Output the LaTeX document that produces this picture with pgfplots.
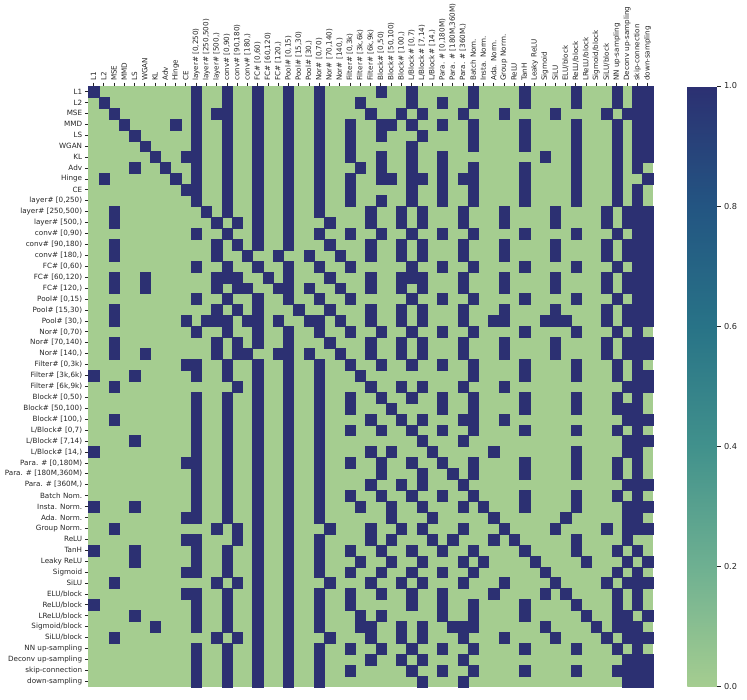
\documentclass[border=0pt]{standalone}
\usepackage{pgfplots}
\pgfplotsset{compat=1.18}
\usepackage{fontspec}
\setmainfont{DejaVu Sans}
\definecolor{cdark}{RGB}{44,48,114}
\definecolor{clight}{RGB}{165,205,144}
\definecolor{ctext}{RGB}{38,38,38}
\pgfplotsset{colormap={crestr}{rgb255(0)=(165,205,144) rgb255(1)=(110,176,145) rgb255(2)=(65,145,140) rgb255(3)=(40,115,135) rgb255(4)=(35,85,130) rgb255(5)=(44,48,114)}}
\pgfdeclareplotmark{cell}{\pgfpathrectangle{\pgfqpoint{-5.13pt}{-5.46pt}}{\pgfqpoint{10.26pt}{10.92pt}}\pgfusepathqfillstroke}
\newcommand\labs{{L1},{L2},{MSE},{MMD},{LS},{WGAN},{KL},{Adv},{Hinge},{CE},{layer\# [0,250)},{layer\# [250,500)},{layer\# [500,)},{conv\# [0,90)},{conv\# [90,180)},{conv\# [180,)},{FC\# [0,60)},{FC\# [60,120)},{FC\# [120,)},{Pool\# [0,15)},{Pool\# [15,30)},{Pool\# [30,)},{Nor\# [0,70)},{Nor\# [70,140)},{Nor\# [140,)},{Filter\# [0,3k)},{Filter\# [3k,6k)},{Filter\# [6k,9k)},{Block\# [0,50)},{Block\# [50,100)},{Block\# [100,)},{L/Block\# [0,7)},{L/Block\# [7,14)},{L/Block\# [14,)},{Para. \# [0,180M)},{Para. \# [180M,360M)},{Para. \# [360M,)},{Batch Nom.},{Insta. Norm.},{Ada. Norm.},{Group Norm.},{ReLU},{TanH},{Leaky ReLU},{Sigmoid},{SiLU},{ELU/block},{ReLU/block},{LReLU/block},{Sigmoid/block},{SiLU/block},{NN up-sampling},{Deconv up-sampling},{skip-connection},{down-sampling}}
\begin{document}
\begin{tikzpicture}
\useasboundingbox (-88.3pt,-12.3pt) rectangle (658.7pt,686.7pt);
\begin{axis}[
 scale only axis, width=564.4pt, height=600.7pt,
 axis background/.style={fill=clight},
 axis line style={draw=none},
 xmin=-0.5, xmax=54.5, ymin=-0.5, ymax=54.5, y dir=reverse,
 xtick={0,...,54}, ytick={0,...,54},
 xticklabels/.expand once=\labs, yticklabels/.expand once=\labs,
 xticklabel pos=top, xtick pos=top, ytick pos=left,
 tick align=outside, major tick length=3.5pt,
 tick style={draw=ctext, line width=0.6pt},
 ticklabel style={font=\fontsize{7.2}{8}\selectfont, text=ctext},
 x tick label style={rotate=90, anchor=west, inner xsep=1.5pt},
 y tick label style={inner xsep=2.5pt},
 colormap name=crestr, point meta min=0, point meta max=1,
 colorbar/width=29.7pt,
 colorbar shift/.style={xshift=0pt},
 colorbar, colorbar style={
   at={(parent axis.north east)}, anchor=north west, xshift=34.6pt,
   scale only axis, width=29.7pt, height=600.7pt,
   axis line style={draw=none},
   ytick={0,0.2,0.4,0.6,0.8,1}, ytick pos=right, yticklabel pos=right,
   major tick length=3.5pt, tick align=outside,
   tick style={draw=ctext, line width=0.6pt},
   ticklabel style={font=\fontsize{8.2}{10}\selectfont, text=ctext},
   /pgf/number format/fixed, /pgf/number format/fixed zerofill, /pgf/number format/precision=1, /pgf/number format/assume math mode=true},
]
\addplot[only marks, mark=cell, color=cdark, mark options={fill=cdark, draw=cdark, line width=0.1pt}] coordinates {
(0,0)(10,0)(13,0)(16,0)(19,0)(22,0)(28,0)(31,0)(37,0)(42,0)(47,0)(51,0)(53,0)(54,0)
(1,1)(10,1)(13,1)(16,1)(19,1)(22,1)(26,1)(31,1)(34,1)(37,1)(42,1)(47,1)(51,1)(53,1)(54,1)
(2,2)(10,2)(12,2)(13,2)(16,2)(19,2)(22,2)(27,2)(30,2)(32,2)(36,2)(40,2)(45,2)(50,2)(52,2)(53,2)(54,2)
(3,3)(8,3)(10,3)(13,3)(16,3)(19,3)(22,3)(25,3)(28,3)(29,3)(31,3)(34,3)(37,3)(42,3)(47,3)(51,3)(53,3)(54,3)
(4,4)(10,4)(13,4)(16,4)(19,4)(22,4)(25,4)(28,4)(32,4)(37,4)(42,4)(47,4)(51,4)(53,4)(54,4)
(5,5)(10,5)(13,5)(16,5)(19,5)(22,5)(25,5)(31,5)(37,5)(42,5)(47,5)(51,5)(53,5)(54,5)
(6,6)(9,6)(10,6)(13,6)(16,6)(19,6)(22,6)(25,6)(28,6)(31,6)(34,6)(44,6)(47,6)(51,6)(53,6)(54,6)
(4,7)(7,7)(10,7)(13,7)(16,7)(19,7)(22,7)(26,7)(28,7)(31,7)(34,7)(37,7)(42,7)(47,7)(51,7)(53,7)
(1,8)(8,8)(10,8)(13,8)(16,8)(19,8)(22,8)(25,8)(28,8)(29,8)(31,8)(32,8)(34,8)(36,8)(37,8)(42,8)(47,8)(51,8)(54,8)
(9,9)(10,9)(13,9)(16,9)(19,9)(22,9)(25,9)(31,9)(34,9)(37,9)(42,9)(47,9)(51,9)(53,9)
(10,10)(13,10)(16,10)(19,10)(22,10)(25,10)(28,10)(31,10)(34,10)(37,10)(42,10)(47,10)(51,10)(53,10)
(2,11)(11,11)(13,11)(16,11)(19,11)(22,11)(27,11)(30,11)(32,11)(36,11)(40,11)(45,11)(50,11)(52,11)(53,11)(54,11)
(2,12)(12,12)(14,12)(16,12)(19,12)(23,12)(27,12)(30,12)(32,12)(36,12)(40,12)(45,12)(50,12)(52,12)(53,12)(54,12)
(10,13)(13,13)(16,13)(19,13)(22,13)(25,13)(28,13)(31,13)(34,13)(37,13)(42,13)(47,13)(51,13)(53,13)(54,13)
(2,14)(12,14)(14,14)(16,14)(19,14)(23,14)(27,14)(30,14)(32,14)(36,14)(40,14)(45,14)(50,14)(52,14)(53,14)(54,14)
(2,15)(12,15)(15,15)(18,15)(21,15)(24,15)(27,15)(30,15)(32,15)(36,15)(40,15)(45,15)(50,15)(52,15)(53,15)(54,15)
(10,16)(13,16)(16,16)(19,16)(22,16)(25,16)(31,16)(34,16)(37,16)(42,16)(47,16)(51,16)(53,16)(54,16)
(2,17)(5,17)(12,17)(13,17)(14,17)(17,17)(19,17)(23,17)(27,17)(30,17)(31,17)(32,17)(36,17)(40,17)(45,17)(50,17)(52,17)(53,17)(54,17)
(2,18)(5,18)(12,18)(14,18)(15,18)(18,18)(19,18)(21,18)(24,18)(27,18)(30,18)(32,18)(36,18)(40,18)(45,18)(50,18)(52,18)(53,18)(54,18)
(10,19)(13,19)(16,19)(19,19)(22,19)(25,19)(31,19)(34,19)(37,19)(42,19)(47,19)(51,19)(53,19)(54,19)
(2,20)(12,20)(14,20)(16,20)(20,20)(23,20)(27,20)(30,20)(32,20)(36,20)(40,20)(45,20)(50,20)(52,20)(53,20)(54,20)
(2,21)(9,21)(11,21)(12,21)(13,21)(15,21)(16,21)(18,21)(21,21)(22,21)(24,21)(27,21)(30,21)(32,21)(36,21)(39,21)(40,21)(44,21)(45,21)(46,21)(50,21)(52,21)(53,21)(54,21)
(10,22)(13,22)(16,22)(19,22)(22,22)(25,22)(28,22)(31,22)(34,22)(37,22)(42,22)(47,22)(51,22)(53,22)
(2,23)(12,23)(14,23)(16,23)(19,23)(23,23)(27,23)(30,23)(32,23)(36,23)(40,23)(45,23)(50,23)(52,23)(53,23)(54,23)
(2,24)(5,24)(12,24)(14,24)(15,24)(18,24)(19,24)(21,24)(24,24)(27,24)(30,24)(32,24)(36,24)(40,24)(45,24)(50,24)(52,24)(53,24)(54,24)
(9,25)(10,25)(13,25)(16,25)(19,25)(22,25)(25,25)(28,25)(31,25)(34,25)(37,25)(42,25)(47,25)(51,25)(53,25)
(0,26)(4,26)(10,26)(13,26)(16,26)(19,26)(22,26)(26,26)(37,26)(42,26)(47,26)(51,26)(53,26)(54,26)
(2,27)(14,27)(16,27)(19,27)(22,27)(27,27)(30,27)(32,27)(36,27)(40,27)(52,27)(53,27)(54,27)
(10,28)(13,28)(16,28)(19,28)(22,28)(25,28)(28,28)(31,28)(34,28)(37,28)(42,28)(47,28)(51,28)(53,28)
(10,29)(13,29)(16,29)(19,29)(22,29)(25,29)(29,29)(34,29)(37,29)(42,29)(47,29)(51,29)(52,29)(53,29)
(2,30)(10,30)(13,30)(16,30)(19,30)(22,30)(27,30)(30,30)(32,30)(36,30)(37,30)(40,30)(52,30)(53,30)(54,30)
(10,31)(13,31)(16,31)(19,31)(22,31)(25,31)(28,31)(31,31)(34,31)(37,31)(42,31)(47,31)(51,31)(53,31)
(4,32)(10,32)(13,32)(16,32)(19,32)(22,32)(32,32)(36,32)(52,32)(53,32)(54,32)
(0,33)(10,33)(13,33)(16,33)(19,33)(22,33)(27,33)(29,33)(33,33)(39,33)(47,33)(52,33)(53,33)
(9,34)(10,34)(13,34)(16,34)(19,34)(22,34)(25,34)(28,34)(31,34)(34,34)(37,34)(42,34)(47,34)(51,34)(53,34)
(10,35)(13,35)(16,35)(19,35)(22,35)(28,35)(32,35)(35,35)(37,35)(42,35)(47,35)(51,35)(53,35)
(10,36)(13,36)(16,36)(19,36)(22,36)(27,36)(30,36)(32,36)(36,36)(52,36)(53,36)(54,36)
(10,37)(13,37)(16,37)(19,37)(22,37)(25,37)(28,37)(31,37)(34,37)(37,37)(42,37)(47,37)(51,37)(53,37)
(0,38)(4,38)(10,38)(13,38)(16,38)(19,38)(22,38)(26,38)(29,38)(32,38)(36,38)(38,38)(42,38)(47,38)(52,38)(53,38)(54,38)
(9,39)(10,39)(13,39)(16,39)(19,39)(22,39)(29,39)(33,39)(39,39)(46,39)(52,39)(53,39)
(2,40)(12,40)(14,40)(16,40)(19,40)(23,40)(27,40)(30,40)(32,40)(36,40)(40,40)(45,40)(50,40)(52,40)(53,40)(54,40)
(9,41)(10,41)(14,41)(16,41)(19,41)(22,41)(27,41)(29,41)(33,41)(35,41)(39,41)(41,41)(47,41)(52,41)
(0,42)(4,42)(10,42)(13,42)(16,42)(19,42)(22,42)(25,42)(28,42)(31,42)(34,42)(37,42)(42,42)(47,42)(51,42)(53,42)
(4,43)(10,43)(13,43)(16,43)(19,43)(22,43)(26,43)(29,43)(32,43)(36,43)(38,43)(43,43)(48,43)(52,43)(54,43)
(9,44)(10,44)(13,44)(16,44)(19,44)(22,44)(25,44)(28,44)(31,44)(34,44)(37,44)(44,44)(51,44)(53,44)
(2,45)(12,45)(14,45)(16,45)(19,45)(23,45)(27,45)(30,45)(32,45)(36,45)(40,45)(45,45)(50,45)(52,45)(53,45)(54,45)
(9,46)(10,46)(13,46)(16,46)(19,46)(22,46)(25,46)(28,46)(31,46)(34,46)(39,46)(44,46)(46,46)(51,46)(53,46)
(0,47)(10,47)(13,47)(16,47)(19,47)(22,47)(25,47)(31,47)(34,47)(37,47)(42,47)(47,47)(51,47)(53,47)
(4,48)(10,48)(13,48)(16,48)(19,48)(22,48)(26,48)(28,48)(34,48)(37,48)(42,48)(48,48)(51,48)(52,48)(54,48)
(6,49)(10,49)(13,49)(16,49)(19,49)(22,49)(26,49)(27,49)(30,49)(32,49)(35,49)(36,49)(37,49)(44,49)(49,49)(51,49)(52,49)(53,49)
(2,50)(12,50)(14,50)(16,50)(19,50)(23,50)(27,50)(30,50)(32,50)(36,50)(40,50)(45,50)(50,50)(52,50)(53,50)(54,50)
(10,51)(13,51)(16,51)(19,51)(22,51)(25,51)(28,51)(31,51)(34,51)(37,51)(42,51)(47,51)(51,51)(53,51)
(10,52)(13,52)(16,52)(19,52)(22,52)(27,52)(30,52)(32,52)(36,52)(52,52)(53,52)(54,52)
(10,53)(13,53)(16,53)(19,53)(22,53)(25,53)(31,53)(34,53)(37,53)(42,53)(47,53)(51,53)(52,53)(53,53)(54,53)
(10,54)(13,54)(16,54)(19,54)(22,54)(32,54)(36,54)(52,54)(53,54)(54,54)
};
\end{axis}
\end{tikzpicture}
\end{document}
